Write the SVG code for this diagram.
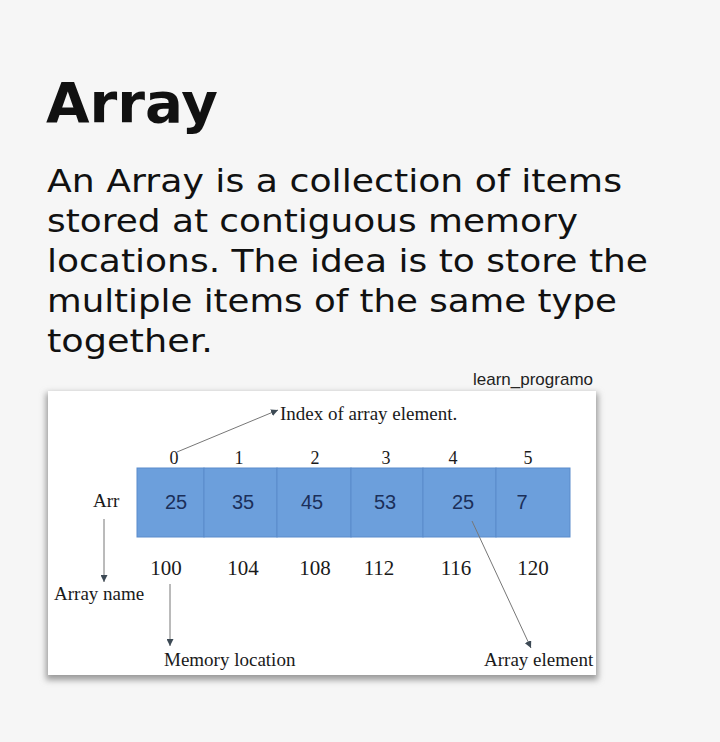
<svg xmlns="http://www.w3.org/2000/svg" width="720" height="742" viewBox="0 0 720 742">
<style>
.title{font-family:"DejaVu Sans","Liberation Sans",sans-serif;font-weight:700;font-size:56px;fill:#111}
.body{font-family:"DejaVu Sans","Liberation Sans",sans-serif;font-size:32px;fill:#111}
.serif{font-family:"Liberation Serif","DejaVu Serif",serif;fill:#1a1a1a}
.idx{font-size:18px}
.addr{font-size:21px}
.lbl{font-size:19px}
.val{font-family:"Liberation Sans",sans-serif;font-size:20px;fill:#1b2f5a}
.wm{font-family:"Liberation Sans",sans-serif;font-size:17px;fill:#222}
.conn{stroke:#777;stroke-width:1;fill:none}
.cell{fill:#6c9fdc;stroke:#5a8bcb;stroke-width:1}
</style>
<defs>
<marker id="ah" viewBox="0 0 10 10" refX="10" refY="5" markerWidth="7" markerHeight="7" orient="auto" markerUnits="userSpaceOnUse">
<path d="M0,0 L10,5 L0,10 z" fill="#3d4a55"/>
</marker>
<filter id="sh" x="-5%" y="-5%" width="110%" height="115%">
<feGaussianBlur stdDeviation="3"/>
</filter>
</defs>
<rect width="720" height="742" fill="#f6f6f6"/>
<g id="heading">
<text class="title" x="46" y="122" textLength="172" lengthAdjust="spacingAndGlyphs">Array</text>
<text class="body" x="47" y="192" textLength="575" lengthAdjust="spacingAndGlyphs">An Array is a collection of items</text>
<text class="body" x="47" y="232" textLength="531" lengthAdjust="spacingAndGlyphs">stored at contiguous memory</text>
<text class="body" x="47" y="272" textLength="601" lengthAdjust="spacingAndGlyphs">locations. The idea is to store the</text>
<text class="body" x="47" y="312" textLength="570" lengthAdjust="spacingAndGlyphs">multiple items of the same type</text>
<text class="body" x="47" y="352" textLength="166" lengthAdjust="spacingAndGlyphs">together.</text>
<text class="wm" x="473" y="385">learn_programo</text>
</g>
<g id="panel">
<rect x="46" y="393" width="552" height="287" fill="#9a9a9a" filter="url(#sh)"/>
<rect x="48" y="391" width="548" height="284" fill="#ffffff"/>
</g>
<g id="array">
<rect class="cell" x="137" y="468" width="67" height="69"/>
<rect class="cell" x="204" y="468" width="73" height="69"/>
<rect class="cell" x="277" y="468" width="74" height="69"/>
<rect class="cell" x="351" y="468" width="72" height="69"/>
<rect class="cell" x="423" y="468" width="73" height="69"/>
<rect class="cell" x="496" y="468" width="74" height="69"/>
<text class="val" x="176" y="509" text-anchor="middle">25</text>
<text class="val" x="243" y="509" text-anchor="middle">35</text>
<text class="val" x="312" y="509" text-anchor="middle">45</text>
<text class="val" x="385" y="509" text-anchor="middle">53</text>
<text class="val" x="463" y="509" text-anchor="middle">25</text>
<text class="val" x="522" y="509" text-anchor="middle">7</text>
</g>
<g id="indices" class="serif idx">
<text x="174" y="464" text-anchor="middle">0</text>
<text x="239" y="464" text-anchor="middle">1</text>
<text x="315" y="464" text-anchor="middle">2</text>
<text x="386" y="464" text-anchor="middle">3</text>
<text x="453" y="464" text-anchor="middle">4</text>
<text x="528" y="464" text-anchor="middle">5</text>
</g>
<g id="addresses" class="serif addr">
<text x="166" y="575" text-anchor="middle">100</text>
<text x="243" y="575" text-anchor="middle">104</text>
<text x="315" y="575" text-anchor="middle">108</text>
<text x="379" y="575" text-anchor="middle">112</text>
<text x="456" y="575" text-anchor="middle">116</text>
<text x="533" y="575" text-anchor="middle">120</text>
</g>
<g id="labels" class="serif lbl">
<text x="93" y="507">Arr</text>
<text x="280" y="420">Index of array element.</text>
<text x="54" y="600">Array name</text>
<text x="164" y="666">Memory location</text>
<text x="484" y="666">Array element</text>
</g>
<g id="connectors">
<line class="conn" x1="104" y1="519" x2="104" y2="582" marker-end="url(#ah)"/>
<line class="conn" x1="170" y1="584" x2="170" y2="646" marker-end="url(#ah)"/>
<line class="conn" x1="472" y1="521" x2="531" y2="648" marker-end="url(#ah)"/>
<line class="conn" x1="177" y1="452" x2="278" y2="410" marker-end="url(#ah)"/>
</g>
</svg>
